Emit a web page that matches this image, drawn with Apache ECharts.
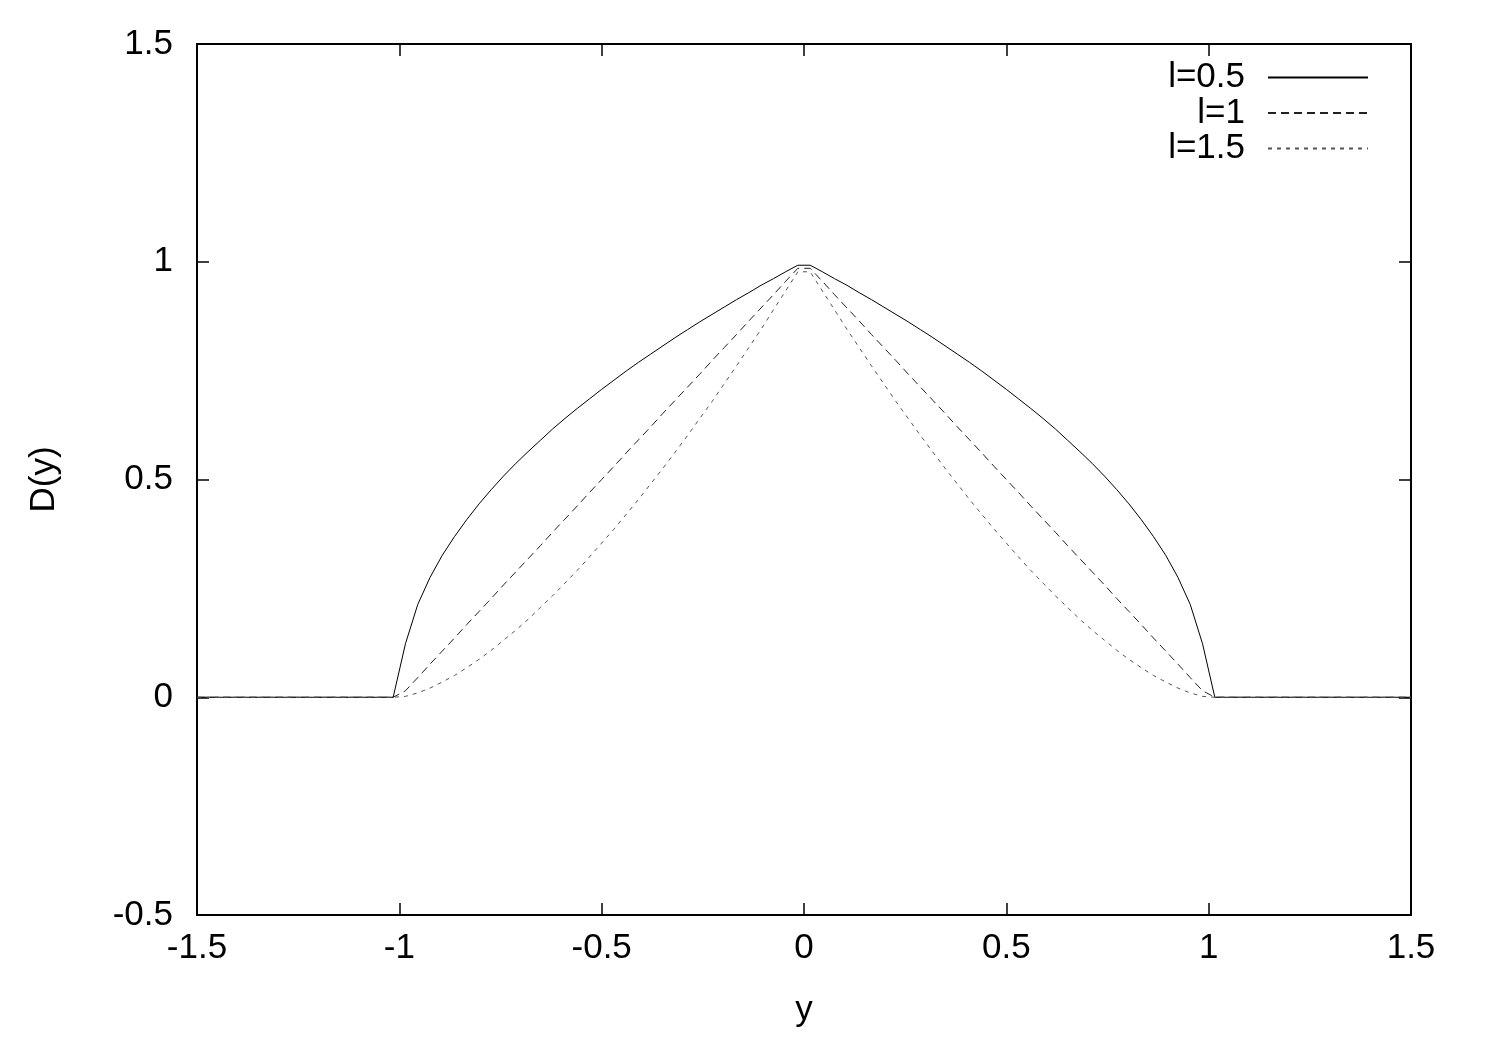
<!DOCTYPE html>
<html>
<head>
<meta charset="utf-8">
<script src="https://cdn.jsdelivr.net/npm/echarts@6/dist/echarts.min.js"></script>
<style>
html,body{margin:0;padding:0;background:#fff;}
#chart{width:1487px;height:1060px;}
</style>
</head>
<body>
<div id="chart"></div>
<script>
// sample positions (y) and D(y) values for each l
const yPos = [-1.5, -1.0152, -0.9848, -0.9545, -0.9242, -0.8939, -0.8636, -0.8333, -0.8030, -0.7727, -0.7424, -0.7121, -0.6818, -0.6515, -0.6212, -0.5909, -0.5606, -0.5303, -0.5, -0.4697, -0.4394, -0.4091, -0.3788, -0.3485, -0.3182, -0.2879, -0.2576, -0.2273, -0.1970, -0.1667, -0.1364, -0.1061, -0.0758, -0.0455, -0.0152,
  0.0152, 0.0455, 0.0758, 0.1061, 0.1364, 0.1667, 0.1970, 0.2273, 0.2576, 0.2879, 0.3182, 0.3485, 0.3788, 0.4091, 0.4394, 0.4697, 0.5, 0.5303, 0.5606, 0.5909, 0.6212, 0.6515, 0.6818, 0.7121, 0.7424, 0.7727, 0.8030, 0.8333, 0.8636, 0.8939, 0.9242, 0.9545, 0.9848, 1.0152, 1.5];

const D_l05 = [0, 0, 0.123, 0.213, 0.275, 0.326, 0.369, 0.408, 0.444, 0.477, 0.508, 0.537, 0.564, 0.590, 0.616, 0.640, 0.663, 0.685, 0.707, 0.728, 0.749, 0.769, 0.788, 0.807, 0.826, 0.844, 0.862, 0.879, 0.896, 0.913, 0.929, 0.946, 0.961, 0.977, 0.992,
  0.992, 0.977, 0.961, 0.946, 0.929, 0.913, 0.896, 0.879, 0.862, 0.844, 0.826, 0.807, 0.788, 0.769, 0.749, 0.728, 0.707, 0.685, 0.663, 0.640, 0.616, 0.590, 0.564, 0.537, 0.508, 0.477, 0.444, 0.408, 0.369, 0.326, 0.275, 0.213, 0.123, 0, 0];

const D_l10 = [0, 0, 0.015, 0.045, 0.076, 0.106, 0.136, 0.167, 0.197, 0.227, 0.258, 0.288, 0.318, 0.348, 0.379, 0.409, 0.439, 0.470, 0.5, 0.530, 0.561, 0.591, 0.621, 0.652, 0.682, 0.712, 0.742, 0.773, 0.803, 0.833, 0.864, 0.894, 0.924, 0.955, 0.985,
  0.985, 0.955, 0.924, 0.894, 0.864, 0.833, 0.803, 0.773, 0.742, 0.712, 0.682, 0.652, 0.621, 0.591, 0.561, 0.530, 0.5, 0.470, 0.439, 0.409, 0.379, 0.348, 0.318, 0.288, 0.258, 0.227, 0.197, 0.167, 0.136, 0.106, 0.076, 0.045, 0.015, 0, 0];

const D_l15 = [0, 0, 0.002, 0.010, 0.021, 0.035, 0.050, 0.068, 0.087, 0.108, 0.131, 0.154, 0.179, 0.206, 0.233, 0.262, 0.291, 0.322, 0.354, 0.386, 0.420, 0.454, 0.490, 0.526, 0.563, 0.601, 0.640, 0.679, 0.720, 0.761, 0.803, 0.845, 0.889, 0.933, 0.977,
  0.977, 0.933, 0.889, 0.845, 0.803, 0.761, 0.720, 0.679, 0.640, 0.601, 0.563, 0.526, 0.490, 0.454, 0.420, 0.386, 0.354, 0.322, 0.291, 0.262, 0.233, 0.206, 0.179, 0.154, 0.131, 0.108, 0.087, 0.068, 0.050, 0.035, 0.021, 0.010, 0.002, 0, 0];

const seriesNames = ['l=0.5', 'l=1', 'l=1.5'];
const xTicks = [-1.5, 1.5, 0.5];   // min, max, interval
const yTicks = [-0.5, 1.5, 0.5];

const FONT = '"Liberation Sans", Arial, sans-serif';
const FS = 35;

function zip(a, b) { return a.map((v, i) => [v, b[i]]); }

const chart = echarts.init(document.getElementById('chart'), null, {renderer: 'canvas'});

const tickStyle = {show: true, inside: true, length: 12, lineStyle: {color: '#000', width: 1.5}};
const hiddenLine = {show: false, onZero: false};

chart.setOption({
  backgroundColor: '#fff',
  animation: false,
  grid: {left: 197, right: 76, top: 44, bottom: 145, show: true, borderColor: '#000', borderWidth: 2, backgroundColor: 'transparent'},
  legend: {
    orient: 'vertical',
    align: 'right',
    right: 113,
    top: 55,
    itemWidth: 100,
    itemHeight: 14,
    itemGap: 0.5,
    selectedMode: false,
    data: seriesNames,
    itemStyle: {color: 'transparent', borderColor: 'transparent', borderWidth: 0, opacity: 0},
    formatter: function (n) { return '{t|' + n + '}'; },
    textStyle: {
      rich: {
        t: {fontFamily: FONT, fontSize: FS, color: '#000', width: 150, align: 'right', lineHeight: 36, padding: [0, 18, 0, 0]}
      }
    }
  },
  xAxis: [{
    type: 'value', min: xTicks[0], max: xTicks[1], interval: xTicks[2],
    position: 'bottom',
    axisLine: hiddenLine,
    axisTick: tickStyle,
    splitLine: {show: false},
    axisLabel: {fontFamily: FONT, fontSize: FS, color: '#000', margin: 16},
    name: 'y', nameLocation: 'middle', nameGap: 78,
    nameTextStyle: {fontFamily: FONT, fontSize: FS, color: '#000'}
  }, {
    type: 'value', min: xTicks[0], max: xTicks[1], interval: xTicks[2],
    position: 'top',
    axisLine: hiddenLine,
    axisTick: tickStyle,
    splitLine: {show: false},
    axisLabel: {show: false}
  }],
  yAxis: [{
    type: 'value', min: yTicks[0], max: yTicks[1], interval: yTicks[2],
    position: 'left',
    axisLine: hiddenLine,
    axisTick: tickStyle,
    splitLine: {show: false},
    axisLabel: {fontFamily: FONT, fontSize: FS, color: '#000', margin: 24},
    name: 'D(y)', nameLocation: 'middle', nameGap: 135,
    nameTextStyle: {fontFamily: FONT, fontSize: FS, color: '#000'}
  }, {
    type: 'value', min: yTicks[0], max: yTicks[1], interval: yTicks[2],
    position: 'right',
    axisLine: hiddenLine,
    axisTick: tickStyle,
    splitLine: {show: false},
    axisLabel: {show: false}
  }],
  series: [{
    name: seriesNames[0], type: 'line', data: zip(yPos, D_l05),
    symbol: 'none', smooth: false, color: '#000',
    lineStyle: {color: '#000', width: 1, type: 'solid'}
  }, {
    name: seriesNames[1], type: 'line', data: zip(yPos, D_l10),
    symbol: 'none', smooth: false, color: '#222',
    lineStyle: {color: '#222', width: 1, type: [8, 5]}
  }, {
    name: seriesNames[2], type: 'line', data: zip(yPos, D_l15),
    symbol: 'none', smooth: false, color: '#555',
    lineStyle: {color: '#555', width: 1, type: [4, 5]}
  }]
});
</script>
</body>
</html>
